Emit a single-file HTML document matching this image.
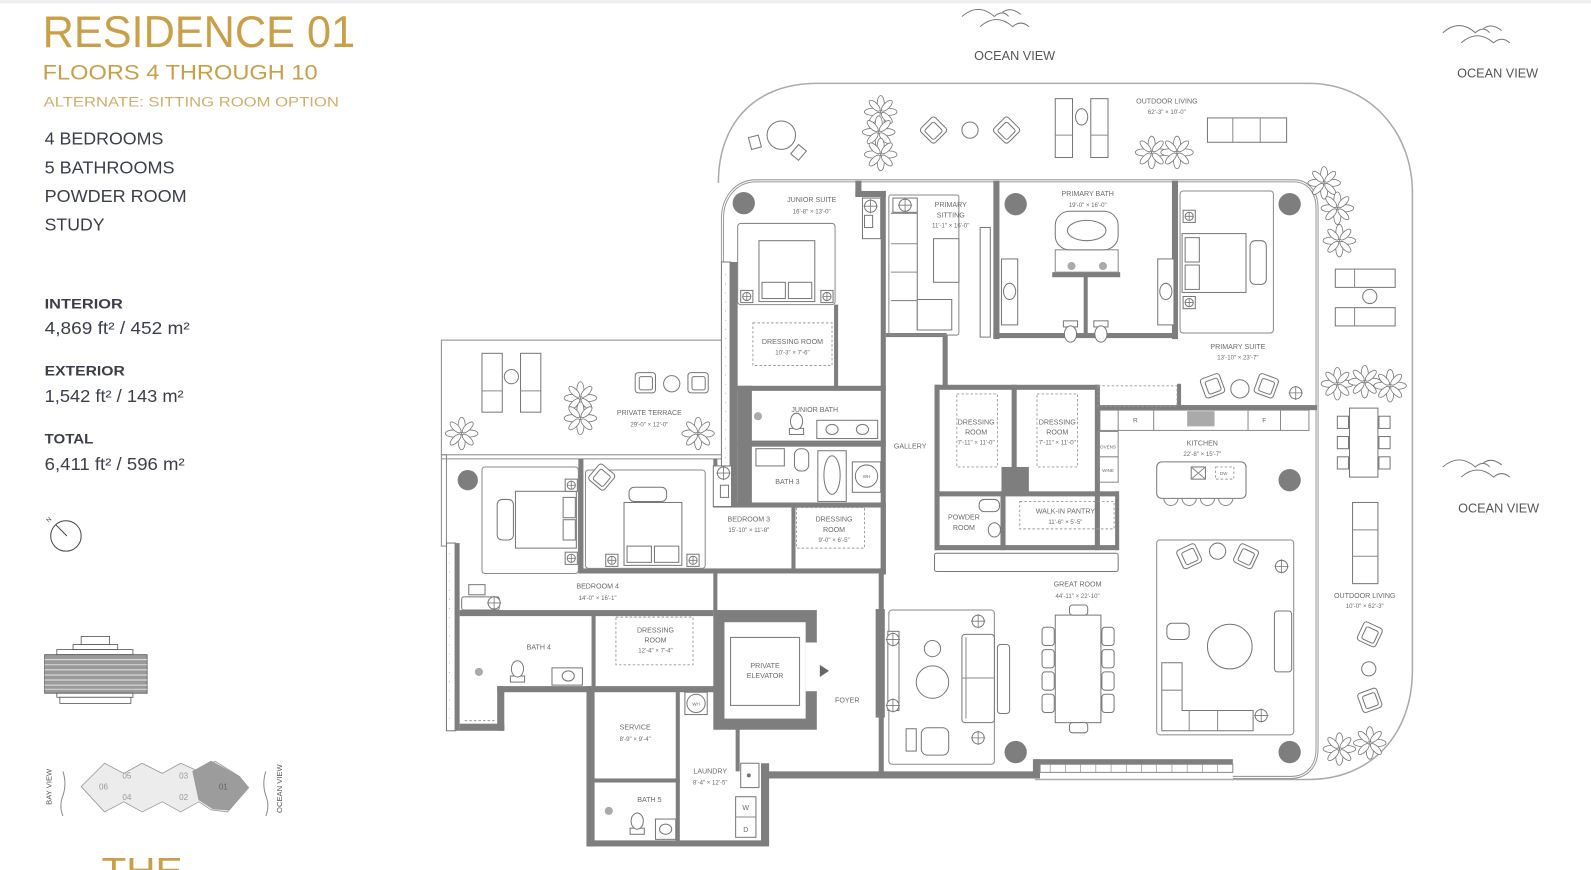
<!DOCTYPE html>
<html><head><meta charset="utf-8"><style>
html,body{margin:0;padding:0;background:#fff;overflow:hidden}
svg{display:block}
.w{fill:#7e7e7e}
.l{fill:none;stroke:#8a8a8a;stroke-width:1}
.f{fill:#fff;stroke:#777;stroke-width:1}
.d{fill:none;stroke:#999;stroke-width:.9;stroke-dasharray:2.5 2}
.c{fill:#7e7e7e}
.t{font-family:"Liberation Sans",sans-serif;font-size:7px;fill:#6a6a6a;text-anchor:middle}
.g{font-family:"Liberation Sans",sans-serif;fill:#c9a048}
.k{font-family:"Liberation Sans",sans-serif;fill:#3c3f4a}
.o{font-family:"Liberation Sans",sans-serif;font-size:12.5px;fill:#555;text-anchor:middle}
</style></head><body>
<svg width="1591" height="870" viewBox="0 0 1568 857" xmlns="http://www.w3.org/2000/svg">
<defs>
<g id="pl"><g fill="#fff" stroke="#777" stroke-width=".8">
<ellipse cx="0" cy="-8" rx="3.5" ry="8"/><ellipse cx="0" cy="8" rx="3.5" ry="8"/>
<ellipse cx="-8" cy="0" rx="8" ry="3.5"/><ellipse cx="8" cy="0" rx="8" ry="3.5"/>
<ellipse cx="6" cy="-6" rx="3" ry="7" transform="rotate(45 6 -6)"/><ellipse cx="-6" cy="6" rx="3" ry="7" transform="rotate(45 -6 6)"/>
<ellipse cx="-6" cy="-6" rx="3" ry="7" transform="rotate(-45 -6 -6)"/><ellipse cx="6" cy="6" rx="3" ry="7" transform="rotate(-45 6 6)"/></g></g>
<g id="ch"><rect x="-10" y="-10" width="20" height="20" rx="3" class="f"/><rect x="-6" y="-6" width="13" height="13" rx="2" class="f"/></g>
<g id="ns"><rect x="-6" y="-6" width="12" height="12" class="f"/><circle r="4" class="f"/><path d="M-4 0H4M0-4V4" stroke="#777" stroke-width=".8"/></g>
<g id="lp"><circle r="6" class="f"/><path d="M-7 0H7M0-7V7" stroke="#777" stroke-width=".8"/></g>
<g id="wc"><rect x="-7" y="-2" width="14" height="6" class="f"/><ellipse cx="0" cy="-9" rx="6" ry="8" class="f"/></g>
<g id="wv"><path d="M0 8q16-14 32 0q8-7 14 0M18 18q16-14 32 0q8-7 16 0M40 4q8-6 18 2" fill="none" stroke="#777" stroke-width="1"/></g>
</defs>
<rect x="0" y="0" width="1568" height="3" fill="#ececec"/>

<!-- SIDEBAR -->
<text class="g" x="42" y="46" font-size="44" textLength="308" lengthAdjust="spacingAndGlyphs">RESIDENCE 01</text>
<text class="g" x="42" y="78" font-size="21" textLength="271" lengthAdjust="spacingAndGlyphs">FLOORS 4 THROUGH 10</text>
<text class="g" x="43" y="105" font-size="14" textLength="291" lengthAdjust="spacingAndGlyphs" style="fill:#d1ae6c">ALTERNATE: SITTING ROOM OPTION</text>
<text class="k" x="44" y="142" font-size="17" textLength="117" lengthAdjust="spacingAndGlyphs">4 BEDROOMS</text>
<text class="k" x="44" y="171" font-size="17" textLength="128" lengthAdjust="spacingAndGlyphs">5 BATHROOMS</text>
<text class="k" x="44" y="199" font-size="17" textLength="140" lengthAdjust="spacingAndGlyphs">POWDER ROOM</text>
<text class="k" x="44" y="227" font-size="17" textLength="59" lengthAdjust="spacingAndGlyphs">STUDY</text>
<text class="k" x="44" y="304" font-size="13.5" font-weight="bold" textLength="77" lengthAdjust="spacingAndGlyphs">INTERIOR</text>
<text class="k" x="44" y="329" font-size="17" textLength="143" lengthAdjust="spacingAndGlyphs">4,869 ft² / 452 m²</text>
<text class="k" x="44" y="370" font-size="13.5" font-weight="bold" textLength="79" lengthAdjust="spacingAndGlyphs">EXTERIOR</text>
<text class="k" x="44" y="396" font-size="17" textLength="137" lengthAdjust="spacingAndGlyphs">1,542 ft² / 143 m²</text>
<text class="k" x="44" y="437" font-size="13.5" font-weight="bold" textLength="48" lengthAdjust="spacingAndGlyphs">TOTAL</text>
<text class="k" x="44" y="463" font-size="17" textLength="138" lengthAdjust="spacingAndGlyphs">6,411 ft² / 596 m²</text>
<circle cx="65" cy="528" r="15" fill="none" stroke="#444" stroke-width="1"/>
<line x1="55" y1="517" x2="66" y2="528" stroke="#444"/>
<text x="46" y="514" font-size="6" fill="#444" font-family="Liberation Sans" transform="rotate(-45 48 512)">N</text>
<g fill="#fff" stroke="#555" stroke-width=".8">
<rect x="80" y="627" width="28" height="8"/><rect x="72" y="635" width="44" height="5"/><rect x="56" y="640" width="75" height="5"/>
<rect x="44" y="645" width="101" height="38" fill="#9a9a9a"/><rect x="56" y="683" width="75" height="4"/><rect x="59" y="687" width="70" height="6"/></g>
<g stroke="#fff" stroke-width=".7"><path d="M44 650H145M44 655H145M44 660H145M44 665H145M44 670H145M44 675H145M44 679H145"/></g>
<g stroke="#999" stroke-width=".8">
<path d="M80 775L103 752L122 762L140 752L160 762L178 752L196 760L212 750L236 765L245 776L224 800L208 798L196 790L178 800L160 790L140 800L122 790L103 800Z" fill="#ececec"/>
<path d="M190 760L208 750L234 764L245 776L226 798L210 797L196 788Z" fill="#9c9c9c"/></g>
<g font-family="Liberation Sans" font-size="8" fill="#999" text-anchor="middle"><text x="102" y="778">06</text><text x="125" y="767">05</text><text x="125" y="788">04</text><text x="181" y="767">03</text><text x="181" y="788">02</text><text x="220" y="778" fill="#666">01</text></g>
<text x="0" y="0" font-family="Liberation Sans" font-size="7.5" fill="#555" transform="translate(51 793) rotate(-90)">BAY VIEW</text>
<text x="0" y="0" font-family="Liberation Sans" font-size="7.5" fill="#555" transform="translate(278 801) rotate(-90)">OCEAN VIEW</text>
<path d="M62 760q4 12 0 24q-4 10 0 20M262 760q-4 12 0 24q4 10 0 20" class="l"/>
<text class="g" x="100" y="870" font-size="36" textLength="80" lengthAdjust="spacingAndGlyphs">THE</text>

<use href="#wv" x="948" y="8"/><text class="o" x="1000" y="59">OCEAN VIEW</text>
<use href="#wv" x="1422" y="24"/><text class="o" x="1476" y="76">OCEAN VIEW</text>
<use href="#wv" x="1422" y="452"/><text class="o" x="1477" y="505">OCEAN VIEW</text>

<path d="M708 180C708 120 745 82 805 82L1290 82C1350 82 1392 130 1392 190L1392 660C1392 725 1350 768 1290 768L1020 768" fill="none" stroke="#aaa" stroke-width="1.5"/>
<path d="M712 258L712 215C712 195 725 178 745 178L1275 178C1290 178 1298 190 1298 205L1298 738C1298 755 1288 766 1272 766L1215 766" fill="none" stroke="#999" stroke-width="3"/>
<path d="M712 258L712 215C712 195 725 178 745 178L1275 178C1290 178 1298 190 1298 205L1298 738C1298 755 1288 766 1272 766L1215 766" fill="none" stroke="#fff" stroke-width="1"/>
<rect x="435" y="335" width="277" height="113" class="l"/>
<path d="M435 452H712" class="l"/>
<rect x="435" y="448" width="5" height="90" class="l"/>

<g class="w">
<rect x="843" y="178" width="6" height="15"/><rect x="843" y="188" width="30" height="6"/>
<rect x="868" y="188" width="5" height="378"/>
<rect x="711" y="258" width="9" height="240" fill="#fff" stroke="#777"/>
<rect x="719" y="258" width="8" height="240"/>
<rect x="727" y="380" width="146" height="5"/>
<rect x="822" y="300" width="4" height="82"/>
<rect x="727" y="380" width="14" height="118"/>
<rect x="727" y="434" width="146" height="6"/>
<rect x="706" y="495" width="167" height="5"/>
<rect x="780" y="498" width="4" height="64"/>
<rect x="868" y="496" width="5" height="70"/>
<rect x="573" y="560" width="300" height="5"/>
<rect x="570" y="452" width="5" height="113"/>
<rect x="703" y="452" width="4" height="48"/>
<rect x="929" y="330" width="5" height="52"/>
<rect x="873" y="328" width="60" height="4"/>
<rect x="979" y="178" width="6" height="156"/>
<rect x="979" y="328" width="182" height="5"/>
<rect x="1155" y="178" width="6" height="156"/>
<rect x="1037" y="268" width="67" height="5"/>
<rect x="1068" y="268" width="4" height="62"/>
<rect x="921" y="379" width="162" height="5"/>
<rect x="921" y="379" width="5" height="163"/>
<rect x="997" y="379" width="5" height="85"/>
<rect x="1079" y="379" width="5" height="163"/>
<rect x="987" y="460" width="27" height="27"/>
<rect x="921" y="484" width="181" height="5"/>
<rect x="986" y="484" width="5" height="58"/>
<rect x="921" y="537" width="181" height="5"/>
<rect x="1099" y="484" width="4" height="58"/>
<rect x="1082" y="399" width="216" height="5"/>
<rect x="1160" y="378" width="4" height="24"/>
<rect x="440" y="535" width="9" height="185" fill="#fff" stroke="#777"/>
<rect x="448" y="535" width="5" height="185"/>
<rect x="453" y="601" width="250" height="6"/>
<rect x="583" y="605" width="4" height="75"/>
<rect x="453" y="713" width="44" height="7"/>
<rect x="490" y="676" width="7" height="44"/>
<rect x="490" y="676" width="215" height="6"/>
<rect x="578" y="676" width="8" height="158"/>
<rect x="578" y="828" width="180" height="6"/>
<rect x="666" y="680" width="4" height="150"/>
<rect x="585" y="767" width="85" height="4"/>
<rect x="703" y="565" width="4" height="38"/>
<rect x="703" y="601" width="102" height="118"/>
<rect x="750" y="752" width="8" height="80"/>
<rect x="750" y="760" width="270" height="7"/>
<rect x="1018" y="748" width="7" height="19"/>
<rect x="1020" y="748" width="195" height="5"/>
<rect x="863" y="600" width="9" height="107"/>
<rect x="866" y="560" width="5" height="205"/>
<rect x="725" y="680" width="4" height="80"/>
</g>
<rect x="714" y="613" width="80" height="95" fill="#fff"/>
<rect x="794" y="633" width="12" height="48" fill="#fff"/>
<rect x="720" y="628" width="68" height="67" class="f"/>
<path d="M808 655L817 661L808 667Z" fill="#666"/>
<rect x="1025" y="753" width="190" height="8" fill="#fff" stroke="#888"/>
<path d="M1035 753v8M1050 753v8M1065 753v8M1080 753v8M1095 753v8M1110 753v8M1125 753v8M1140 753v8M1155 753v8M1170 753v8M1185 753v8M1200 753v8" stroke="#888" stroke-width=".6"/>
<path d="M715 270v220M443 545v170" stroke="#888" stroke-width=".5" stroke-dasharray="1 8"/>

<g class="c"><circle cx="733" cy="200" r="11"/><circle cx="1001" cy="201" r="11"/><circle cx="1271" cy="201" r="11"/>
<circle cx="1271" cy="473" r="11"/><circle cx="461" cy="473" r="10"/><circle cx="1001" cy="741" r="11"/><circle cx="1271" cy="741" r="11"/></g>

<rect x="727" y="220" width="96" height="80" rx="3" class="l"/>
<rect x="748" y="237" width="55" height="60" class="f" stroke-width="1.5"/>
<rect x="751" y="278" width="23" height="16" class="f"/><rect x="777" y="278" width="23" height="16" class="f"/>
<use href="#ns" x="736" y="292"/><use href="#ns" x="815" y="292"/>
<rect x="742" y="318" width="78" height="42" class="d"/>
<rect x="850" y="195" width="18" height="40" class="f"/><use href="#lp" x="858" y="203"/>
<rect x="852" y="212" width="8" height="12" class="f"/>
<rect x="876" y="192" width="69" height="138" rx="2" class="l"/>
<path d="M878 210h26v115h34v-30h-34" class="f"/>
<path d="M878 240h26M878 268h26M878 296h26M904 325v-30" class="l"/>
<rect x="920" y="235" width="25" height="43" class="f"/>
<rect x="880" y="195" width="24" height="14" class="f"/><use href="#lp" x="892" y="202"/>
<rect x="966" y="224" width="10" height="108" class="f"/>
<rect x="1040" y="208" width="62" height="38" rx="14" class="f"/><ellipse cx="1071" cy="227" rx="19" ry="10" class="f"/>
<rect x="1040" y="246" width="62" height="22" class="l"/>
<circle cx="1056" cy="262" r="4" fill="#aaa"/><circle cx="1087" cy="262" r="4" fill="#aaa"/>
<use href="#wc" x="1055" y="320" transform="rotate(180 1055 320)"/><use href="#wc" x="1085" y="320" transform="rotate(180 1085 320)"/>
<rect x="987" y="255" width="16" height="65" class="f"/><ellipse cx="995" cy="287" rx="6" ry="8" class="f"/>
<rect x="1141" y="255" width="16" height="65" class="f"/><ellipse cx="1149" cy="287" rx="6" ry="8" class="f"/>
<rect x="1163" y="188" width="92" height="140" rx="3" class="l"/>
<rect x="1165" y="230" width="63" height="58" class="f" stroke-width="1.5"/>
<rect x="1168" y="234" width="14" height="24" class="f"/><rect x="1168" y="261" width="14" height="24" class="f"/>
<rect x="1232" y="237" width="16" height="43" rx="5" class="f"/>
<use href="#ns" x="1172" y="213"/><use href="#ns" x="1172" y="298"/>
<use href="#ch" x="1195" y="380" transform="rotate(-20 1195 380)"/><use href="#ch" x="1248" y="380" transform="rotate(20 1248 380)"/>
<circle cx="1222" cy="383" r="9" class="f"/><use href="#lp" x="1277" y="387"/>

<rect x="943" y="388" width="40" height="72" class="d"/><rect x="1022" y="388" width="40" height="72" class="d"/>
<rect x="1005" y="494" width="93" height="27" class="d"/>
<rect x="965" y="492" width="20" height="12" rx="5" class="f"/><ellipse cx="980" cy="522" rx="6" ry="7" class="f"/>
<rect x="921" y="545" width="181" height="18" rx="2" class="f"/>
<rect x="1084" y="404" width="206" height="20" class="l"/>
<path d="M1102 404v20M1137 404v20M1230 404v20M1262 404v20" class="l"/>
<rect x="1170" y="405" width="27" height="15" fill="#aaa"/>
<rect x="1082" y="380" width="78" height="20" class="d"/>
<rect x="1082" y="425" width="20" height="50" class="l"/><path d="M1082 450h20" class="l"/>
<rect x="1140" y="455" width="88" height="36" rx="5" class="f"/>
<rect x="1174" y="460" width="14" height="12" class="f"/><path d="M1174 460l14 12M1188 460l-14 12" class="l"/>
<rect x="1198" y="460" width="18" height="12" class="d"/>
<path d="M1147 491a7 7 0 0 0 14 0M1165 491a7 7 0 0 0 14 0M1183 491a7 7 0 0 0 14 0M1201 491a7 7 0 0 0 14 0" class="l"/>

<rect x="876" y="601" width="104" height="152" rx="3" class="l"/>
<rect x="875" y="622" width="11" height="78" class="f"/><use href="#lp" x="880" y="630"/><use href="#lp" x="880" y="695"/>
<rect x="948" y="625" width="32" height="87" rx="3" class="f"/><path d="M948 668h32M952 628v80" class="l"/>
<rect x="983" y="635" width="12" height="68" rx="3" class="f"/>
<circle cx="919" cy="639" r="8" class="f"/><circle cx="919" cy="672" r="16" class="f"/>
<use href="#lp" x="964" y="612"/><use href="#lp" x="964" y="727"/>
<rect x="908" y="717" width="27" height="27" rx="6" class="f"/><rect x="893" y="718" width="10" height="22" class="f"/>
<rect x="1040" y="606" width="45" height="106" class="f"/>
<g class="f"><rect x="1027" y="618" width="12" height="18" rx="3"/><rect x="1027" y="640" width="12" height="18" rx="3"/><rect x="1027" y="662" width="12" height="18" rx="3"/><rect x="1027" y="684" width="12" height="18" rx="3"/>
<rect x="1086" y="618" width="12" height="18" rx="3"/><rect x="1086" y="640" width="12" height="18" rx="3"/><rect x="1086" y="662" width="12" height="18" rx="3"/><rect x="1086" y="684" width="12" height="18" rx="3"/>
<rect x="1054" y="596" width="18" height="10" rx="3"/><rect x="1054" y="712" width="18" height="10" rx="3"/></g>
<rect x="1140" y="532" width="135" height="192" rx="3" class="l"/>
<path d="M1145 653h20v47h70v20h-90z" class="f"/><path d="M1145 680h20M1172 700v20M1200 700v20" class="l"/>
<rect x="1150" y="614" width="22" height="16" rx="5" class="f"/>
<rect x="1256" y="602" width="17" height="60" rx="3" class="f"/>
<circle cx="1212" cy="637" r="22" class="f"/>
<use href="#ch" x="1172" y="548" transform="rotate(-25 1172 548)"/><use href="#ch" x="1228" y="548" transform="rotate(25 1228 548)"/>
<circle cx="1200" cy="543" r="8" class="f"/><use href="#lp" x="1263" y="558"/><use href="#lp" x="1243" y="705"/>

<circle cx="747" cy="410" r="4" fill="#aaa"/>
<use href="#wc" x="785" y="424"/>
<rect x="805" y="414" width="60" height="18" class="f"/><ellipse cx="820" cy="423" rx="6" ry="5" class="f"/><ellipse cx="850" cy="423" rx="6" ry="5" class="f"/>
<rect x="745" y="442" width="28" height="17" class="f"/><rect x="783" y="442" width="14" height="22" rx="6" class="f"/>
<rect x="806" y="444" width="28" height="50" class="f"/><ellipse cx="820" cy="468" rx="8" ry="19" class="f"/>
<rect x="840" y="455" width="28" height="30" class="f"/><circle cx="854" cy="469" r="11" class="f"/>
<rect x="785" y="500" width="67" height="40" class="d"/>
<rect x="475" y="460" width="95" height="105" rx="3" class="l"/>
<rect x="508" y="484" width="60" height="56" class="f" stroke-width="1.5"/>
<rect x="490" y="492" width="16" height="40" rx="5" class="f"/>
<rect x="555" y="490" width="12" height="20" class="f"/><rect x="555" y="512" width="12" height="20" class="f"/>
<use href="#ns" x="563" y="478"/><use href="#ns" x="563" y="550"/>
<rect x="577" y="463" width="118" height="97" rx="3" class="l"/>
<rect x="615" y="495" width="57" height="62" class="f" stroke-width="1.5"/>
<rect x="620" y="480" width="37" height="14" rx="5" class="f"/>
<rect x="618" y="538" width="24" height="16" class="f"/><rect x="645" y="538" width="24" height="16" class="f"/>
<use href="#ns" x="603" y="552"/><use href="#ns" x="683" y="552"/>
<use href="#ch" x="593" y="470" transform="rotate(40 593 470)"/>
<rect x="703" y="459" width="18" height="40" class="f"/><use href="#lp" x="713" y="466"/><rect x="710" y="478" width="8" height="12" class="f"/>
<rect x="455" y="588" width="37" height="13" rx="2" class="f"/><use href="#lp" x="487" y="594"/><rect x="462" y="576" width="16" height="10" class="f"/>
<circle cx="472" cy="662" r="4" fill="#aaa"/>
<use href="#wc" x="510" y="668"/>
<rect x="544" y="658" width="30" height="17" class="f"/><ellipse cx="560" cy="666" rx="6" ry="5" class="f"/>
<path d="M458 710h30" class="d"/>
<rect x="607" y="608" width="76" height="47" class="d"/>
<rect x="675" y="682" width="22" height="22" class="f"/><circle cx="686" cy="693" r="9" class="f"/>
<circle cx="600" cy="799" r="4" fill="#aaa"/>
<use href="#wc" x="628" y="818"/>
<rect x="646" y="807" width="20" height="20" class="f"/><ellipse cx="656" cy="817" rx="6" ry="5" class="f"/>
<rect x="730" y="752" width="18" height="24" class="f"/><circle cx="738" cy="764" r="2" fill="#777"/>
<rect x="725" y="785" width="20" height="40" class="f"/><path d="M725 805h20" class="l"/>
<g class="t" font-size="7"><text x="735" y="798">W</text><text x="735" y="820">D</text></g>

<circle cx="770" cy="133" r="14" class="f"/><rect x="739" y="134" width="10" height="12" class="f" transform="rotate(-15 744 140)"/><rect x="782" y="144" width="10" height="12" class="f" transform="rotate(40 787 150)"/>
<use href="#ch" x="920" y="128" transform="rotate(45 920 128)"/><use href="#ch" x="992" y="128" transform="rotate(45 992 128)"/>
<circle cx="956" cy="128" r="8" class="f"/>
<rect x="1040" y="97" width="17" height="58" class="f"/><rect x="1075" y="97" width="17" height="58" class="f"/><path d="M1040 133h17M1075 133h17" class="l"/>
<ellipse cx="1066" cy="115" rx="6" ry="8" class="f"/>
<rect x="1190" y="116" width="78" height="24" class="f"/><path d="M1215 116v24M1242 116v24" class="l"/>
<use href="#pl" x="868" y="110"/><use href="#pl" x="866" y="130"/><use href="#pl" x="868" y="152"/>
<use href="#pl" x="1135" y="150"/><use href="#pl" x="1160" y="150"/>
<use href="#pl" x="1305" y="180"/><use href="#pl" x="1318" y="205"/><use href="#pl" x="1320" y="237"/>
<use href="#pl" x="1318" y="378"/><use href="#pl" x="1345" y="376"/><use href="#pl" x="1370" y="380"/>
<use href="#pl" x="1320" y="738"/><use href="#pl" x="1350" y="732"/>
<use href="#pl" x="572" y="392"/><use href="#pl" x="572" y="412"/><use href="#pl" x="455" y="427"/><use href="#pl" x="688" y="427"/>
<rect x="475" y="348" width="20" height="58" class="f"/><rect x="513" y="348" width="20" height="58" class="f"/><path d="M475 385h20M513 385h20" class="l"/>
<circle cx="504" cy="371" r="7" class="f"/>
<use href="#ch" x="636" y="377"/><use href="#ch" x="688" y="377"/><circle cx="662" cy="378" r="8" class="f"/>
<rect x="1316" y="265" width="59" height="18" class="f"/><rect x="1316" y="303" width="59" height="18" class="f"/><path d="M1335 265v18M1335 303v18" class="l"/>
<circle cx="1350" cy="292" r="7" class="f"/>
<rect x="1330" y="402" width="28" height="68" class="f"/>
<g class="f"><rect x="1318" y="410" width="11" height="12"/><rect x="1318" y="430" width="11" height="12"/><rect x="1318" y="450" width="11" height="12"/>
<rect x="1359" y="410" width="11" height="12"/><rect x="1359" y="430" width="11" height="12"/><rect x="1359" y="450" width="11" height="12"/></g>
<rect x="1333" y="495" width="25" height="80" class="f"/><path d="M1333 522h25M1333 548h25" class="l"/>
<use href="#ch" x="1350" y="625" transform="rotate(25 1350 625)"/><circle cx="1349" cy="659" r="7" class="f"/><use href="#ch" x="1350" y="690" transform="rotate(-20 1350 690)"/>

<g class="t">
<text x="800" y="199">JUNIOR SUITE</text><text x="800" y="210" font-size="6">16'-8" × 13'-0"</text>
<text x="937" y="204">PRIMARY</text><text x="937" y="214">SITTING</text><text x="937" y="224" font-size="6">11'-1" × 16'-0"</text>
<text x="1072" y="193">PRIMARY BATH</text><text x="1072" y="204" font-size="6">19'-0" × 16'-0"</text>
<text x="1220" y="344">PRIMARY SUITE</text><text x="1220" y="354" font-size="6">13'-10" × 23'-7"</text>
<text x="1150" y="102">OUTDOOR LIVING</text><text x="1150" y="112" font-size="6">62'-3" × 10'-0"</text>
<text x="781" y="339">DRESSING ROOM</text><text x="781" y="349" font-size="6">10'-3" × 7'-6"</text>
<text x="803" y="406">JUNIOR BATH</text>
<text x="897" y="442">GALLERY</text>
<text x="776" y="477">BATH 3</text>
<text x="962" y="418">DRESSING</text><text x="962" y="428">ROOM</text><text x="962" y="438" font-size="6">7'-11" × 11'-0"</text>
<text x="1042" y="418">DRESSING</text><text x="1042" y="428">ROOM</text><text x="1042" y="438" font-size="6">7'-11" × 11'-0"</text>
<text x="950" y="512">POWDER</text><text x="950" y="522">ROOM</text>
<text x="1050" y="506">WALK-IN PANTRY</text><text x="1050" y="516" font-size="6">11'-6" × 5'-5"</text>
<text x="1185" y="439">KITCHEN</text><text x="1185" y="449" font-size="6">22'-8" × 15'-7"</text>
<text x="1119" y="416" font-size="6.5">R</text><text x="1246" y="416" font-size="6.5">F</text>
<text x="1092" y="442" font-size="4.5">OVENS</text><text x="1092" y="465" font-size="4.5">WINE</text><text x="1206" y="468" font-size="4.5">DW</text>
<text x="640" y="409">PRIVATE TERRACE</text><text x="640" y="420" font-size="6">29'-0" × 12'-0"</text>
<text x="738" y="514">BEDROOM 3</text><text x="738" y="524" font-size="6">15'-10" × 11'-8"</text>
<text x="822" y="514">DRESSING</text><text x="822" y="524">ROOM</text><text x="822" y="534" font-size="6">9'-0" × 6'-5"</text>
<text x="589" y="580">BEDROOM 4</text><text x="589" y="591" font-size="6">14'-0" × 16'-1"</text>
<text x="1062" y="578">GREAT ROOM</text><text x="1062" y="589" font-size="6">44'-11" × 22'-10"</text>
<text x="531" y="640">BATH 4</text>
<text x="646" y="623">DRESSING</text><text x="646" y="633">ROOM</text><text x="646" y="643" font-size="6">12'-4" × 7'-4"</text>
<text x="754" y="658">PRIVATE</text><text x="754" y="668">ELEVATOR</text>
<text x="835" y="692">FOYER</text>
<text x="626" y="719">SERVICE</text><text x="626" y="730" font-size="6">8'-9" × 9'-4"</text>
<text x="700" y="762">LAUNDRY</text><text x="700" y="773" font-size="6">8'-4" × 12'-5"</text>
<text x="640" y="790">BATH 5</text>
<text x="1345" y="589">OUTDOOR LIVING</text><text x="1345" y="599" font-size="6">10'-0" × 62'-3"</text>
<text x="686" y="695" font-size="4.5">WH</text><text x="854" y="471" font-size="4.5">WH</text>
</g>
</svg>
</body></html>
